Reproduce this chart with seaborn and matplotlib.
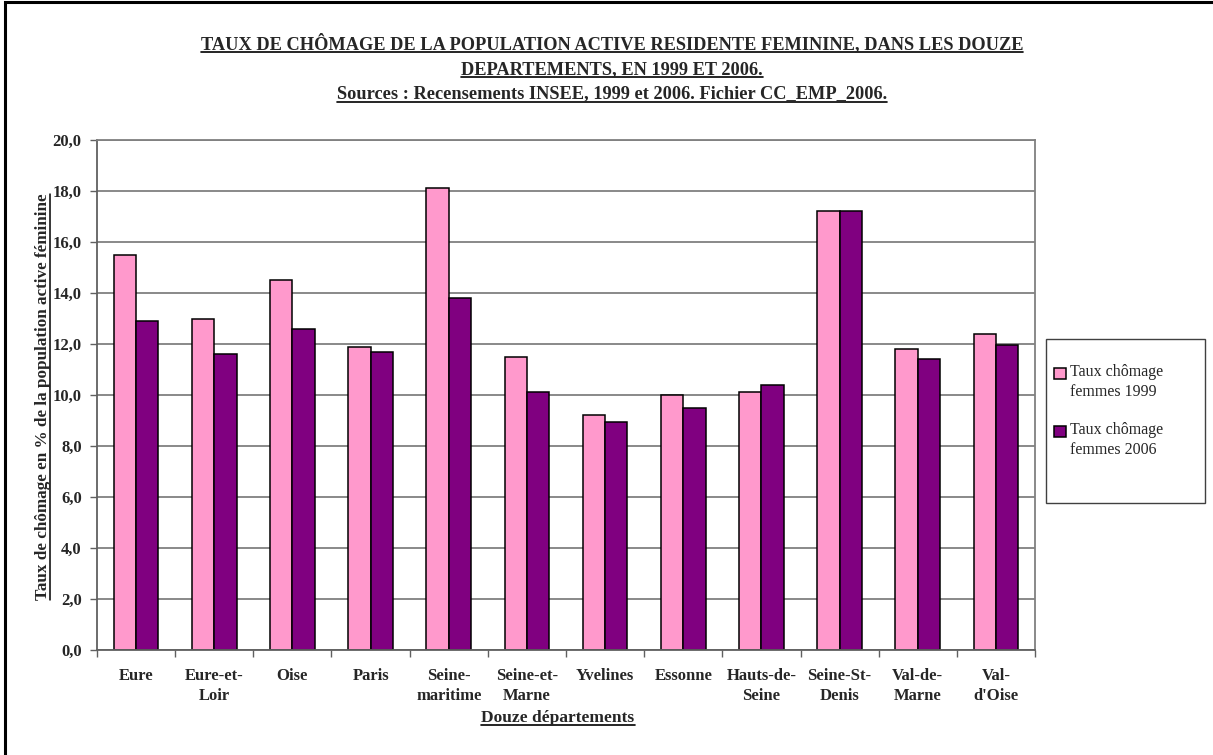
import numpy as np
import pandas as pd
import matplotlib
matplotlib.use("Agg")
import matplotlib.pyplot as plt
import seaborn as sns
from matplotlib.lines import Line2D
from matplotlib.patches import Rectangle
from matplotlib.legend_handler import HandlerPatch
from matplotlib.ticker import FuncFormatter, FixedLocator

departements = ["Eure", "Eure-et-\nLoir", "Oise", "Paris", "Seine-\nmaritime",
                "Seine-et-\nMarne", "Yvelines", "Essonne", "Hauts-de-\nSeine",
                "Seine-St-\nDenis", "Val-de-\nMarne", "Val-\nd'Oise"]
taux_1999 = [15.5, 13.0, 14.5, 11.9, 18.1, 11.5, 9.2, 10.0, 10.1, 17.2, 11.8, 12.4]
taux_2006 = [12.9, 11.6, 12.6, 11.7, 13.8, 10.1, 8.95, 9.5, 10.4, 17.2, 11.4, 11.95]
series_labels = ["Taux chômage\nfemmes 1999", "Taux chômage\nfemmes 2006"]
colors = ["#FF99CC", "#800080"]

df = pd.DataFrame({
    "dept": departements * 2,
    "taux": taux_1999 + taux_2006,
    "serie": [series_labels[0]] * len(departements) + [series_labels[1]] * len(departements),
})

sns.set_theme(style="white")
plt.rcParams["font.family"] = ["Liberation Serif", "DejaVu Serif"]

W, H = 1213, 755
fig = plt.figure(figsize=(W / 100, H / 100), dpi=100)
ax = fig.add_axes([97 / W, 105 / H, (1035 - 97) / W, (650 - 140) / H])

sns.barplot(data=df, x="dept", y="taux", hue="serie", palette=colors, saturation=1,
            width=0.57, edgecolor="black", linewidth=1.1, ax=ax,
            order=departements, hue_order=series_labels, errorbar=None)

ax.set_ylim(0, 20)
ax.set_xlim(-0.5, len(departements) - 0.5)
ax.yaxis.set_major_locator(FixedLocator(np.arange(0, 20.1, 2)))
ax.yaxis.set_major_formatter(FuncFormatter(lambda v, p: f"{v:.1f}".replace(".", ",")))
ax.grid(axis="y", color="#808080", linewidth=1.3)
ax.set_axisbelow(True)
for s in ax.spines.values():
    s.set_color("#808080")
    s.set_linewidth(1.3)
ax.spines["left"].set_color("#606060")
ax.spines["bottom"].set_color("#606060")

ax.tick_params(axis="y", left=True, length=5, width=1, color="#606060",
               labelsize=12, pad=6)
ax.tick_params(axis="x", which="major", bottom=False, labelsize=12, pad=7)
for lbl in ax.get_yticklabels():
    lbl.set_fontweight("bold")
for lbl in ax.get_xticklabels():
    lbl.set_fontweight("bold")
    lbl.set_linespacing(1.3)
    lbl.set_verticalalignment("top")
ax.xaxis.set_minor_locator(FixedLocator(np.arange(-0.5, len(departements), 1.0)))
ax.tick_params(axis="x", which="minor", bottom=True, length=5, width=1, color="#606060")

ax.set_xlabel("")
ax.set_ylabel("")

handles, labels = ax.get_legend_handles_labels()
ax.get_legend().remove()


def top_square(legend, orig_handle, xdescent, ydescent, width, height, fontsize):
    s = 0.72 * fontsize
    return Rectangle((-xdescent, -ydescent + height - s + 0.55 * fontsize), s, s)


# legend frame drawn as a fixed box
fig.patches.append(Rectangle((1046 / W, 1 - 503 / H), (1205 - 1046) / W, (503 - 339) / H,
                             transform=fig.transFigure, fill=False,
                             edgecolor="#404040", linewidth=1.0))
leg = fig.legend(handles, labels, loc="upper left",
                 bbox_to_anchor=(1054 / W, 1 - 364 / H),
                 frameon=False, prop={"size": 11.5}, labelspacing=1.35,
                 handlelength=0.75, handleheight=0.75, handletextpad=0.25,
                 borderaxespad=0, borderpad=0,
                 handler_map={h: HandlerPatch(patch_func=top_square) for h in handles})
for t in leg.get_texts():
    t.set_linespacing(1.35)

# Titles (positions are baselines in pixels from the top)
title_lines = [
    ("TAUX DE CHÔMAGE DE LA POPULATION ACTIVE RESIDENTE FEMININE, DANS LES DOUZE", 49),
    ("DEPARTEMENTS, EN 1999 ET 2006.", 74),
    ("Sources : Recensements INSEE, 1999 et 2006. Fichier CC_EMP_2006.", 98.5),
]
underlined = []
for txt, ypx in title_lines:
    t = fig.text(612 / W, 1 - ypx / H, txt, ha="center", va="baseline",
                 fontsize=13.2, fontweight="bold")
    underlined.append((t, ypx))

xl = fig.text(558 / W, 1 - 722 / H, "Douze départements", ha="center", va="baseline",
              fontsize=12.5, fontweight="bold")
underlined.append((xl, 722))
yl = fig.text(43 / W, 1 - 397 / H, "Taux de chômage en % de la population active féminine",
              ha="center", va="center", rotation=90, fontsize=12.3, fontweight="bold")

# outer frame (left and top visible)
fig.patches.append(Rectangle((5 / W, -0.05), 1.2, 1.05 - 2 / H, transform=fig.transFigure,
                             fill=False, edgecolor="black", linewidth=2.2))

fig.canvas.draw()
r = fig.canvas.get_renderer()
inv = fig.transFigure.inverted()
for t, ypx in underlined:
    bb = t.get_window_extent(r)
    yline = 1 - (ypx + 3) / H
    x0 = inv.transform((bb.x0, 0))[0]
    x1 = inv.transform((bb.x1, 0))[0]
    fig.add_artist(Line2D([x0, x1], [yline, yline], transform=fig.transFigure,
                          color="black", linewidth=1.2))
bb = yl.get_window_extent(r)
(xa, ya0) = inv.transform((bb.x1 - 1.5, bb.y0))
(_, ya1) = inv.transform((bb.x1 - 1.5, bb.y1))
fig.add_artist(Line2D([xa, xa], [ya0, ya1], transform=fig.transFigure, color="black", linewidth=1.1))

fig.savefig("out.png", dpi=100)
